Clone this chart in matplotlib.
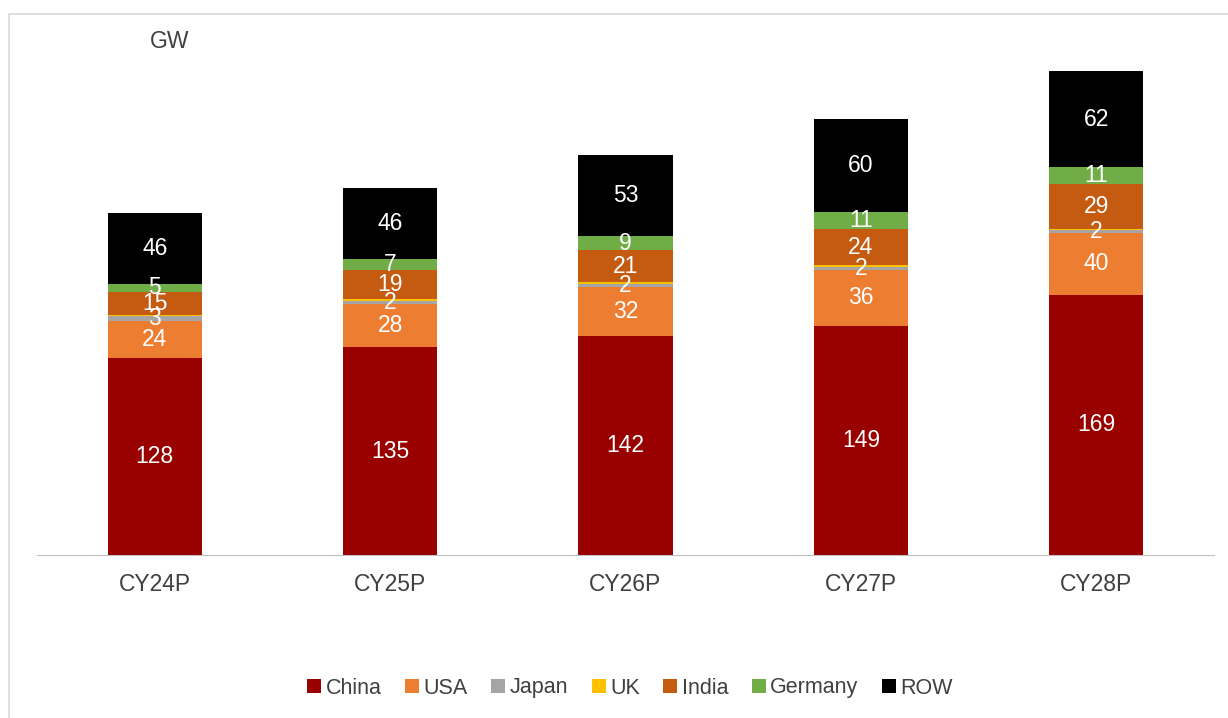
import matplotlib.pyplot as plt
from matplotlib.patches import Rectangle
import numpy as np

plt.rcParams['font.family'] = ['Liberation Sans', 'DejaVu Sans']

years = ["CY24P", "CY25P", "CY26P", "CY27P", "CY28P"]
china = [128, 135, 142, 149, 169]
usa = [24, 28, 32, 36, 40]
japan = [3, 2, 2, 2, 2]
uk = [1, 1, 1, 1, 1]
india = [15, 19, 21, 24, 29]
germany = [5, 7, 9, 11, 11]
row = [46, 46, 53, 60, 62]

series = [
    ("China", china, "#990000", True),
    ("USA", usa, "#ED7D31", True),
    ("Japan", japan, "#A5A5A5", True),
    ("UK", uk, "#FFC000", False),
    ("India", india, "#C55A11", True),
    ("Germany", germany, "#70AD47", True),
    ("ROW", row, "#000000", True),
]

fig = plt.figure(figsize=(12.28, 7.18), dpi=100)
# outer chart border
fig.patches.append(Rectangle((9 / 1228, -0.1), 1.2, 1 - 14 / 718 + 0.1,
                             transform=fig.transFigure, fill=False,
                             edgecolor="#D9D9D9", linewidth=1.2))
ax = fig.add_axes([37 / 1228, 1 - 555 / 718, (1214 - 37) / 1228, (555 - 16) / 718])

x = np.arange(len(years))
bottom = np.zeros(len(years))
for name, vals, color, show in series:
    vals = np.array(vals, dtype=float)
    ax.bar(x, vals, 0.40, bottom=bottom, color=color, label=name)
    if show:
        for xi, b, v in zip(x, bottom, vals):
            ax.text(xi, b + v / 2, f"{int(v)}", ha="center", va="center",
                    color="white", fontsize=16.5)
    bottom += vals

ax.set_xlim(-0.5, len(years) - 0.5)
ax.set_ylim(0, 350)
ax.set_xticks(x)
ax.set_xticklabels(years, fontsize=16.5, color="#404040")
ax.tick_params(axis="x", length=0, pad=13)
ax.set_yticks([])
for s in ["top", "right", "left"]:
    ax.spines[s].set_visible(False)
ax.spines["bottom"].set_color("#BFBFBF")

fig.text(170 / 1228, 1 - 42 / 718, "GW", ha="center", va="center",
         fontsize=16.5, color="#404040")

fig.legend(loc="center", bbox_to_anchor=(630 / 1228, 1 - 688 / 718), ncol=7,
           frameon=False, fontsize=15.5, handlelength=0.65, handleheight=0.65,
           handletextpad=0.2, columnspacing=1.1, labelcolor="#404040")

fig.savefig("out.png", dpi=100)
